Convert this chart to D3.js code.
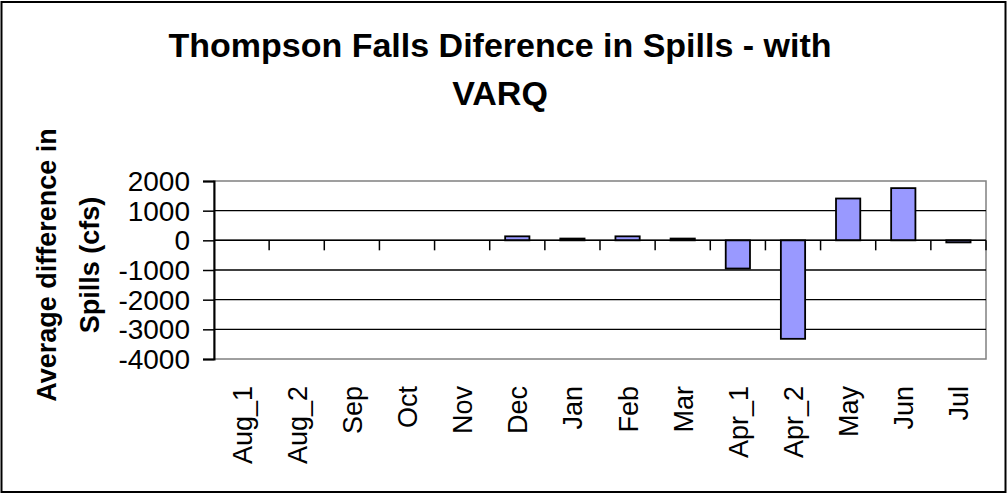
<!DOCTYPE html>
<html><head><meta charset="utf-8">
<script src="https://cdn.jsdelivr.net/npm/d3@7"></script>
<style>body{margin:0;background:#fff}svg{display:block}text{font-family:Arial,"Liberation Sans",sans-serif}</style>
</head><body><svg id="c" width="1008" height="495"></svg>
<script>
const categories = ["Aug_1","Aug_2","Sep","Oct","Nov","Dec","Jan","Feb","Mar","Apr_1","Apr_2","May","Jun","Jul"];
const values = [0,0,0,0,0,135,60,135,60,-950,-3320,1410,1760,-70];
const yTicks = [2000,1000,0,-1000,-2000,-3000,-4000];
const titleLines = ["Thompson Falls Diference in Spills - with","VARQ"];
const yLabelLines = ["Average difference in","Spills (cfs)"];

const svg = d3.select("#c");
const L=214,R=986,T=181,B=359;
svg.append("rect").attr("x",1.5).attr("y",2).attr("width",1004).attr("height",490).attr("fill","#fff").attr("stroke","#000").attr("stroke-width",2);

const x = d3.scaleBand().domain(categories).range([L,R]).paddingInner(0.56).paddingOuter(0.28);
const xb = d3.scaleBand().domain(categories).range([L,R]);
const y = d3.scaleLinear().domain([-4000,2000]).range([B,T]);

// plot frame (gray)
svg.append("rect").attr("x",L).attr("y",T).attr("width",R-L).attr("height",B-T).attr("fill","none").attr("stroke","#808080").attr("stroke-width",1.5);
// gridlines
svg.append("g").selectAll("line").data(yTicks.filter(d=>d!==2000&&d!==-4000)).join("line")
 .attr("x1",L).attr("x2",R).attr("y1",d=>y(d)).attr("y2",d=>y(d)).attr("stroke","#000").attr("stroke-width",1.3);

// bars
svg.append("g").selectAll("rect").data(categories).join("rect")
 .attr("x",d=>x(d)).attr("width",x.bandwidth())
 .attr("y",(d,i)=>Math.min(y(values[i]),y(0)))
 .attr("height",(d,i)=>Math.abs(y(values[i])-y(0)))
 .attr("fill","#9999FF").attr("stroke","#000").attr("stroke-width",1.8);

// y axis
const ya = svg.append("g").attr("transform",`translate(${L},0)`)
 .call(d3.axisLeft(y).tickValues(yTicks).tickSize(11).tickPadding(13).tickFormat(d=>String(d)));
ya.select(".domain").attr("stroke","#000").attr("stroke-width",2);
ya.selectAll(".tick line").attr("stroke","#000").attr("stroke-width",1.5);
ya.selectAll("text").attr("font-size",28).attr("fill","#000").attr("dy","0.34em")
  .attr("font-family","Arial, 'Liberation Sans', sans-serif");

// zero line axis with ticks at category boundaries
svg.append("line").attr("x1",L).attr("x2",R).attr("y1",y(0)).attr("y2",y(0)).attr("stroke","#000").attr("stroke-width",1.5);
svg.append("g").selectAll("line").data(categories).join("line")
 .attr("x1",(d,i)=>L+(i+1)*xb.bandwidth()).attr("x2",(d,i)=>L+(i+1)*xb.bandwidth())
 .attr("y1",y(0)).attr("y2",y(0)+10).attr("stroke","#000").attr("stroke-width",1.5);

// x labels
svg.append("g").selectAll("text").data(categories).join("text")
 .attr("transform",d=>`translate(${xb(d)+xb.bandwidth()/2+10},386) rotate(-90)`)
 .attr("text-anchor","end").attr("font-size",27).text(d=>d);

// title
svg.append("g").selectAll("text").data(titleLines).join("text")
 .attr("x",500).attr("y",(d,i)=>57+i*48).attr("text-anchor","middle")
 .attr("font-size",34).attr("font-weight","bold").text(d=>d);

// y label
svg.append("g").selectAll("text").data(yLabelLines).join("text")
 .attr("transform",(d,i)=>`translate(${56+i*43},265) rotate(-90)`)
 .attr("text-anchor","middle").attr("font-size",27).attr("font-weight","bold").text(d=>d);
</script></body></html>
